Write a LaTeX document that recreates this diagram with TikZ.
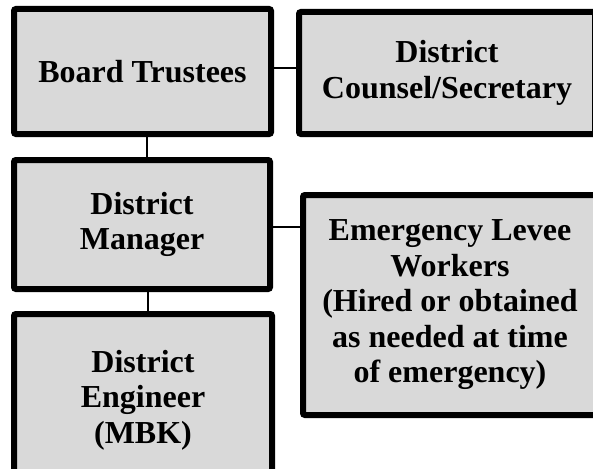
\documentclass[tikz,border=0pt]{standalone}
\usepackage{fontspec}
\setmainfont{Liberation Serif}
\begin{document}
\begin{tikzpicture}[x=1pt,y=-1pt,
  orgbox/.style={draw=black, line width=6pt, fill=boxgray, rounded corners=2pt,
    align=center, inner sep=0pt, font=\fontsize{32}{35.5}\selectfont\bfseries},
  link/.style={draw=black, line width=2.2pt}]
\definecolor{boxgray}{HTML}{D9D9D9}
\useasboundingbox (0,0) rectangle (593,468);
\clip (0,0) rectangle (593,468);
\node[orgbox, minimum width=257pt, minimum height=125pt] (board) at (142.5,71.5) {Board Trustees};
\node[orgbox, minimum width=296pt, minimum height=122pt] (counsel) at (447,73) {District\\Counsel/Secretary};
\node[orgbox, minimum width=256pt, minimum height=129pt] (manager) at (142,224.5) {District\\Manager};
\node[orgbox, minimum width=294pt, minimum height=220pt] (emerg) at (450,305) {Emergency Levee\\Workers\\(Hired or obtained\\as needed at time\\of emergency)};
\node[orgbox, minimum width=258pt, minimum height=172pt] (engineer) at (143,400) {District\\Engineer\\(MBK)};
\draw[link] ([yshift=3.5pt]board.east) -- ([yshift=3.5pt]board.east -| counsel.west);
\draw[link] ([xshift=4.5pt]board.south) -- ([xshift=4.5pt]board.south |- manager.north);
\draw[link] ([yshift=-2.5pt]manager.east) -- ([yshift=-2.5pt]manager.east -| emerg.west);
\draw[link] ([xshift=6pt]manager.south) -- ([xshift=6pt]manager.south |- engineer.north);
\end{tikzpicture}
\end{document}
